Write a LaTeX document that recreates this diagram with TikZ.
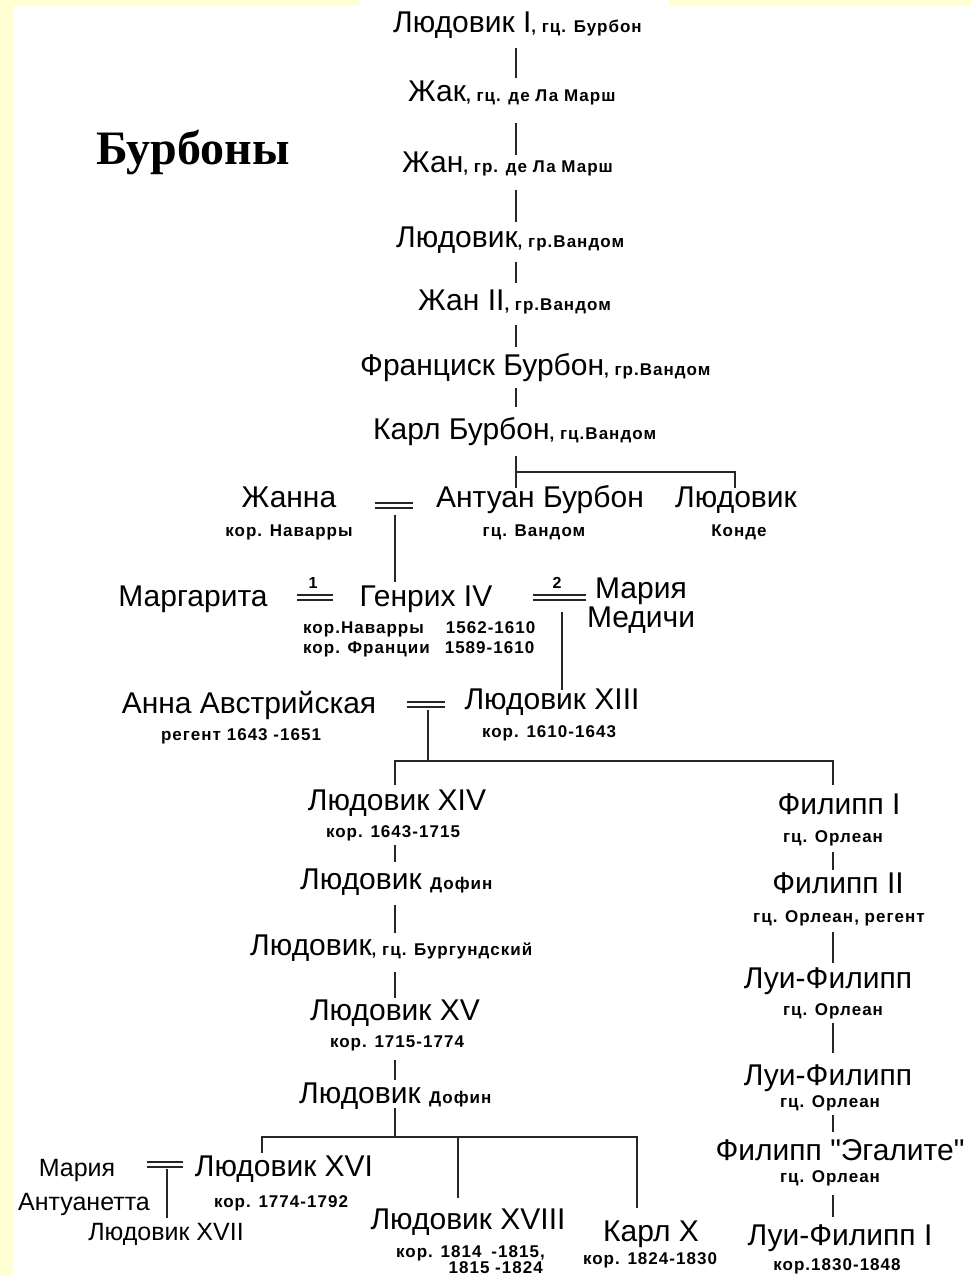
\documentclass[tikz,border=0pt]{standalone}
\usepackage{fontspec}
\newfontfamily\sansf{Liberation Sans}
\newfontfamily\smallf{Liberation Sans Bold}[LetterSpace=6]
\newfontfamily\titlefont{Liberation Serif}
\usetikzlibrary{calc}
\definecolor{bgyellow}{RGB}{255,255,212}
\newcommand\BigTxt{\sansf\fontsize{30}{34}\selectfont}
\newcommand\SmTxt{\smallf\fontsize{17}{20}\selectfont}
\newcommand\MidTxt{\sansf\fontsize{25}{28}\selectfont}
\newcommand\NumTxt{\smallf\fontsize{16}{18}\selectfont}
\begin{document}
\begin{tikzpicture}[x=1pt,y=-1pt,
  txt/.style={inner sep=0pt, anchor=base, font=\BigTxt},
  subt/.style={inner sep=0pt, anchor=base, font=\SmTxt},
  midt/.style={inner sep=0pt, anchor=base, font=\MidTxt},
  numt/.style={inner sep=0pt, anchor=base, font=\NumTxt},
  ln/.style={line width=1.5pt, draw=black!85},
  marr/.style={draw=black!85, line width=2pt, double=white, double distance=3pt}]
\useasboundingbox (0,0) rectangle (971,1276);
\fill[white] (0,0) rectangle (971,1276);
\fill[bgyellow] (0,0) rectangle (13,1276);
\fill[bgyellow] (0,0) rectangle (360,6);
\fill[bgyellow] (669,0) rectangle (971,6);

% helper x positions
\coordinate (xT) at (516,0);
\coordinate (xL) at (395,0);
\coordinate (xR) at (833,0);
\coordinate (x16) at (262,0);
\coordinate (x18) at (458,0);
\coordinate (xK) at (637,0);

% title
\node[inner sep=0pt, anchor=base, font=\titlefont\bfseries\fontsize{48}{52}\selectfont] (title) at (193,165) {Бурбоны};

% main trunk
\node[txt, anchor=base west] (L1) at (393,33) {Людовик I{\SmTxt, гц. Бурбон}};
\node[txt, anchor=base west] (L2) at (408,102) {Жак{\SmTxt, гц. де Ла Марш}};
\node[txt, anchor=base west] (L3) at (402,173) {Жан{\SmTxt, гр. де Ла Марш}};
\node[txt, anchor=base west] (L4) at (396,247) {Людовик{\SmTxt, гр.Вандом}};
\node[txt, anchor=base west] (L5) at (418,310) {Жан II{\SmTxt, гр.Вандом}};
\node[txt, anchor=base west] (L6) at (360,375) {Франциск Бурбон{\SmTxt, гр.Вандом}};
\node[txt, anchor=base west] (L7) at (373,439) {Карл Бурбон{\SmTxt, гц.Вандом}};

% Antoine row
\node[txt] (Zh) at (289,507) {Жанна};
\node[subt] (ZhS) at (289,536) {кор. Наварры};
\node[txt] (An) at (540,507) {Антуан Бурбон};
\node[subt] (AnS) at (534,536) {гц. Вандом};
\node[txt] (Ko) at (736,507) {Людовик};
\node[subt] (KoS) at (739,536) {Конде};

% Henri row
\node[txt] (Mg) at (193,606) {Маргарита};
\node[txt] (He) at (426,606) {Генрих IV};
\node[subt, anchor=base west] (HeS1) at (303,633) {кор.Наварры\hspace{22pt}1562-1610};
\node[subt, anchor=base west] (HeS2) at (303,653) {кор. Франции\hspace{15pt}1589-1610};
\node[txt] (Ma) at (641,598) {Мария};
\node[txt] (Me) at (641,627) {Медичи};
\node[numt] (n1) at (313,588) {1};
\node[numt] (n2) at (557,588) {2};

% Louis XIII row
\node[txt] (AA) at (249,713) {Анна Австрийская};
\node[subt] (AAS) at (241,740) {регент 1643 -1651};
\node[txt] (L13) at (552,709) {Людовик XIII};
\node[subt] (L13S) at (549,737) {кор. 1610-1643};

% left column
\node[txt] (L14) at (397,810) {Людовик XIV};
\node[subt] (L14S) at (393,837) {кор. 1643-1715};
\node[txt, anchor=base west] (D1) at (300,889) {Людовик {\SmTxt Дофин}};
\node[txt, anchor=base west] (Bg) at (250,955) {Людовик{\SmTxt, гц. Бургундский}};
\node[txt] (L15) at (395,1020) {Людовик XV};
\node[subt] (L15S) at (397,1047) {кор. 1715-1774};
\node[txt, anchor=base west] (D2) at (299,1103) {Людовик {\SmTxt Дофин}};

% bottom row
\node[midt] (MA1) at (77,1176) {Мария};
\node[midt] (MA2) at (84,1210) {Антуанетта};
\node[txt] (L16) at (284,1176) {Людовик XVI};
\node[subt] (L16S) at (281,1207) {кор. 1774-1792};
\node[midt] (L17) at (166,1240) {Людовик XVII};
\node[txt] (L18) at (468,1229) {Людовик XVIII};
\node[subt, anchor=base east] (L18S1) at (545,1257) {кор. 1814\hspace{10pt}-1815,};
\node[subt, anchor=base east] (L18S2) at (543,1273) {1815 -1824};
\node[txt] (K10) at (651,1241) {Карл X};
\node[subt] (K10S) at (650,1264) {кор. 1824-1830};

% right column
\node[txt] (P1) at (839,814) {Филипп I};
\node[subt] (P1S) at (833,842) {гц. Орлеан};
\node[txt] (P2) at (838,893) {Филипп II};
\node[subt] (P2S) at (839,922) {гц. Орлеан, регент};
\node[txt] (LF1) at (828,988) {Луи-Филипп};
\node[subt] (LF1S) at (833,1015) {гц. Орлеан};
\node[txt] (LF2) at (828,1085) {Луи-Филипп};
\node[subt] (LF2S) at (830,1107) {гц. Орлеан};
\node[txt] (PE) at (840,1160) {Филипп "Эгалите"};
\node[subt] (PES) at (830,1182) {гц. Орлеан};
\node[txt] (LFI) at (840,1245) {Луи-Филипп I};
\node[subt] (LFIS) at (837,1270) {кор.1830-1848};

% trunk connectors
\draw[ln] ($(L1.base -| xT)+(0,15)$) -- ($(L2.base -| xT)+(0,-24)$);
\draw[ln] ($(L2.base -| xT)+(0,21)$) -- ($(L3.base -| xT)+(0,-18)$);
\draw[ln] ($(L3.base -| xT)+(0,17)$) -- ($(L4.base -| xT)+(0,-25)$);
\draw[ln] ($(L4.base -| xT)+(0,15)$) -- ($(L5.base -| xT)+(0,-27)$);
\draw[ln] ($(L5.base -| xT)+(0,15)$) -- ($(L6.base -| xT)+(0,-28)$);
\draw[ln] ($(L6.base -| xT)+(0,13)$) -- ($(L7.base -| xT)+(0,-32)$);
\draw[ln] ($(L7.base -| xT)+(0,17)$) -- ($(An.base -| xT)+(0,-19)$);
\draw[ln] ($(L7.base -| xT)+(0,33)$) -| ($(Ko.base)+(-1,-19)$);

% marriages
\coordinate (mZA) at (394,505);
\draw[marr] ($(mZA)+(-19,0)$) -- ($(mZA)+(19,0)$);
\draw[ln] ($(mZA)+(1,10)$) -- ($(He.base -| mZA)+(1,-24)$);

\coordinate (mMH) at (315,597.5);
\draw[marr] ($(mMH)+(-18,0)$) -- ($(mMH)+(18,0)$);
\coordinate (mHM) at (560,597.5);
\draw[marr] ($(mHM)+(-27,0)$) -- ($(mHM)+(26,0)$);
\draw[ln] ($(mHM)+(2,14)$) -- ($(L13.base -| mHM)+(2,-19)$);

\coordinate (mAL) at (426,704);
\draw[marr] ($(mAL)+(-19,0)$) -- ($(mAL)+(19,0)$);
\draw[ln] ($(mAL)+(2,6)$) -- ($(mAL)+(2,57)$);
\draw[ln] ($(L14.base -| xL)+(0,-25)$) |- ($(P1.base -| xR)+(0,-53)$) -- ($(P1.base -| xR)+(0,-29)$);

\coordinate (mML) at (165,1164.5);
\draw[marr] ($(mML)+(-18,0)$) -- ($(mML)+(18,0)$);
\draw[ln] ($(mML)+(2,4)$) -- ($(L17.base -| mML)+(2,-22)$);

% left column connectors
\draw[ln] ($(L14S.base -| xL)+(0,8)$) -- ($(D1.base -| xL)+(0,-27)$);
\draw[ln] ($(D1.base -| xL)+(0,16)$) -- ($(Bg.base -| xL)+(0,-22)$);
\draw[ln] ($(Bg.base -| xL)+(0,17)$) -- ($(L15.base -| xL)+(0,-22)$);
\draw[ln] ($(L15S.base -| xL)+(0,13)$) -- ($(D2.base -| xL)+(0,-23)$);

% lower bus
\draw[ln] ($(D2.base -| xL)+(0,5)$) -- ($(D2.base -| xL)+(0,34)$);
\draw[ln] ($(L16.base -| x16)+(0,-23)$) |- ($(K10.base -| xK)+(0,-104)$) -- ($(K10.base -| xK)+(0,-33)$);
\draw[ln] ($(L18.base -| x18)+(0,-92)$) -- ($(L18.base -| x18)+(0,-31)$);

% right column connectors
\draw[ln] ($(P1S.base -| xR)+(0,10)$) -- ($(P2.base -| xR)+(0,-23)$);
\draw[ln] ($(P2S.base -| xR)+(0,10)$) -- ($(LF1.base -| xR)+(0,-25)$);
\draw[ln] ($(LF1S.base -| xR)+(0,8)$) -- ($(LF2.base -| xR)+(0,-32)$);
\draw[ln] ($(LF2S.base -| xR)+(0,8)$) -- ($(PE.base -| xR)+(0,-28)$);
\draw[ln] ($(PES.base -| xR)+(0,13)$) -- ($(LFI.base -| xR)+(0,-28)$);
\end{tikzpicture}
\end{document}
